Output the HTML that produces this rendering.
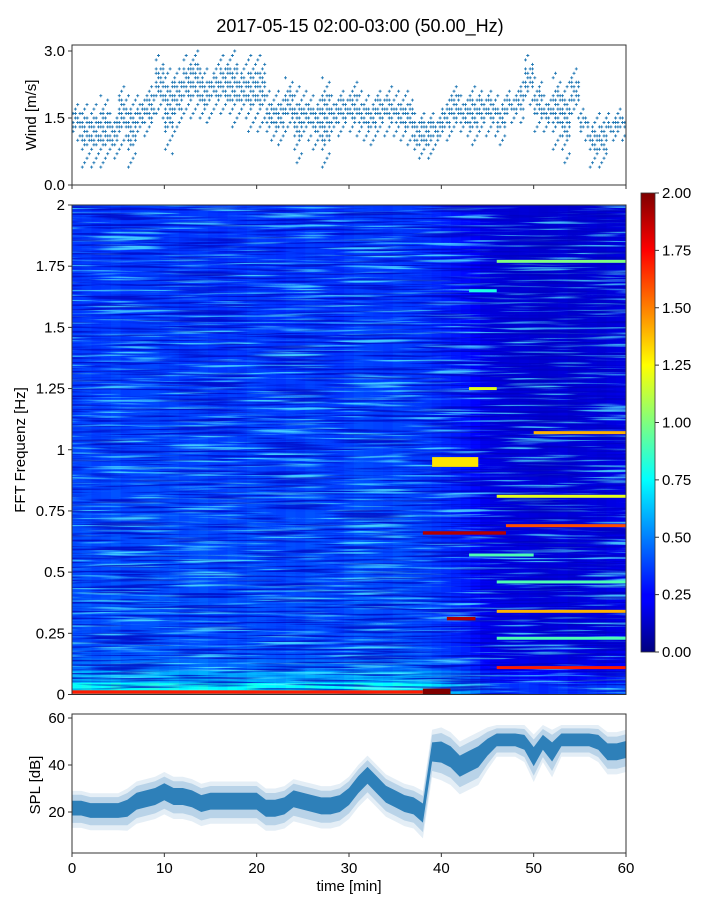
<!DOCTYPE html>
<html><head><meta charset="utf-8">
<style>
html,body{margin:0;padding:0;background:#fff;}
svg{display:block;font-family:"Liberation Sans","DejaVu Sans",sans-serif;}
</style></head>
<body>
<svg id="fig" width="720" height="900" viewBox="0 0 720 900" xmlns="http://www.w3.org/2000/svg">
<defs>
<filter id="streaks" x="0" y="0" width="100%" height="100%">
<feTurbulence type="fractalNoise" baseFrequency="0.012 0.4" numOctaves="2" seed="3"/>
<feColorMatrix values="0 0 0 0 0.1  0 0 0 0 0.95  0 0 0 0 1  5 0 0 0 -2.7"/>
</filter>
<filter id="streaks2" x="0" y="0" width="100%" height="100%">
<feTurbulence type="fractalNoise" baseFrequency="0.012 0.45" numOctaves="2" seed="11"/>
<feColorMatrix values="0 0 0 0 0  0 0 0 0 0  0 0 0 0 0.5  5 0 0 0 -2.4"/>
</filter>
<linearGradient id="jetgrad" x1="0" y1="1" x2="0" y2="0">
<stop offset="0" stop-color="#00007f"/><stop offset="0.11" stop-color="#0000ff"/>
<stop offset="0.125" stop-color="#0000ff"/><stop offset="0.375" stop-color="#00ffff"/>
<stop offset="0.5" stop-color="#7fff7f"/><stop offset="0.625" stop-color="#ffff00"/>
<stop offset="0.875" stop-color="#ff0000"/><stop offset="1" stop-color="#7f0000"/>
</linearGradient>
<clipPath id="specClip"><rect x="72" y="205" width="554" height="490"/></clipPath>
<clipPath id="splClip"><rect x="72" y="714" width="554" height="139"/></clipPath>
</defs>
<text x="360" y="32" font-size="18" text-anchor="middle" fill="#000">2017-05-15 02:00-03:00 (50.00_Hz)</text>
<g id="wind"></g>
<g id="spec"></g>
<g id="cbar"></g>
<g id="spl"></g>
</svg>
<script>
// ---------- data ----------
const minutes = [0,1,2,3,4,5,6,7,8,9,10,11,12,13,14,15,16,17,18,19,20,21,22,23,24,25,26,27,28,29,30,31,32,33,34,35,36,37,38,39,40,41,42,43,44,45,46,47,48,49,50,51,52,53,54,55,56,57,58,59];
const windLo = [1.0,0.4,0.4,0.4,0.6,0.8,0.4,1.1,1.2,1.5,0.7,1.2,1.5,1.5,1.4,1.6,1.6,1.3,1.5,1.2,1.2,1.0,0.9,1.2,0.5,1.0,0.8,0.4,1.1,1.2,1.1,1.0,0.9,1.1,1.1,1.0,0.9,0.6,0.6,0.8,1.0,1.2,1.1,0.9,1.1,1.1,0.9,1.4,1.4,1.8,1.2,1.2,0.8,0.5,1.5,1.0,0.4,0.4,1.0,1.0];
const windHi = [1.8,1.8,1.8,2.0,1.6,2.2,2.0,2.0,2.2,2.9,2.6,2.6,2.9,3.0,2.6,2.7,2.9,3.0,2.7,2.9,2.9,2.1,2.1,2.4,2.2,2.1,2.0,2.4,2.0,2.1,2.3,2.1,2.0,2.1,2.2,2.1,2.1,1.6,1.6,1.6,1.9,2.2,2.0,2.2,2.1,2.1,2.0,2.1,2.3,2.9,2.4,2.0,2.5,2.3,2.6,1.7,1.5,1.6,1.6,1.7];
const windTicks = [0.0,1.5,3.0];
const windTickLabels = ["0.0","1.5","3.0"];
const timeTicks = [0,10,20,30,40,50,60];

const splMid = [22,22,21,21,21,21,22,25,26,27,29,27,27,26,24,25,25,25,25,25,25,22,22,23,26,25,24,23,23,24,27,32,36,32,28,26,24,23,20,46,46,44,40,42,44,48,51,51,51,50,44,50,46,51,51,51,51,50,46,46,47];
const splRange = [7,7,7,7,7,7,8,8,8,8,8,8,8,8,8,8,8,8,8,8,8,8,8,8,8,8,8,8,8,8,8,8,8,8,8,8,8,8,9,9,10,10,10,10,10,8,6,6,6,7,9,7,9,6,6,6,6,7,8,8,8];
const splTicks = [20,40,60];

const specColLevel = [0.40,0.41,0.39,0.40,0.42,0.39,0.40,0.41,0.42,0.40,0.41,0.39,0.40,0.41,0.39,0.38,0.40,0.39,0.41,0.40,0.39,0.38,0.40,0.39,0.41,0.40,0.39,0.38,0.40,0.42,0.41,0.40,0.39,0.41,0.40,0.39,0.38,0.36,0.34,0.32,0.30,0.27,0.22,0.20,0.19,0.18,0.19,0.18,0.17,0.18,0.19,0.17,0.18,0.19,0.18,0.20,0.21];
const specRowLevel = [1.9,1.45,1.15,1.05,1.0,1.0,1.0,1.05,1.0,1.0,1.0,1.0,1.0,1.0,1.0,0.98,0.98,0.98,0.96,0.96,0.96,0.95,0.95,0.94,0.94,0.93,0.93,0.92,0.92,0.92,0.9,0.9,0.9,0.9,0.9,0.9,0.9,0.9,0.9,0.9];
const lineFreq = [0.66,0.69,0.31,0.34,0.11,0.95,1.07,0.81,0.46,0.23,0.57,1.77,1.25,1.65,0.01,0.012];
const lineT0   = [38,47,40.6,46,46,39,50,46,46,46,43,46,43,43,0,38];
const lineT1   = [47,60,43.7,60,60,44,60,60,60,60,50,60,46,46,38,41];
const lineVal  = [1.9,1.6,1.9,1.4,1.7,1.3,1.4,1.2,0.9,0.9,0.9,1.0,1.2,0.8,1.7,2.0];
const lineW    = [0.014,0.012,0.014,0.012,0.012,0.04,0.012,0.012,0.012,0.012,0.012,0.012,0.012,0.012,0.014,0.024];
const cbarTicks = [0,0.25,0.5,0.75,1.0,1.25,1.5,1.75,2.0];
const freqTicks = [0,0.25,0.5,0.75,1,1.25,1.5,1.75,2];
const freqTickLabels = ["0","0.25","0.5","0.75","1","1.25","1.5","1.75","2"];

// ---------- helpers ----------
const NS = "http://www.w3.org/2000/svg";
function mk(tag, attrs, parent){const e=document.createElementNS(NS,tag);for(const k in attrs)e.setAttribute(k,attrs[k]);parent.appendChild(e);return e;}
function jet(v){let t=Math.max(0,Math.min(1,v/2));const c=x=>Math.round(255*Math.max(0,Math.min(1,1.5-Math.abs(4*t-x))));return `rgb(${c(3)},${c(2)},${c(1)})`;}
const X0=72,X1=626;
const xT = t => X0 + (X1-X0)*t/60;

// ---------- wind panel ----------
const W = document.getElementById('wind');
const wy = v => 185 - v*44.67;
let wpath="";
minutes.forEach((m,i)=>{
  const lo=windLo[i], hi=windHi[i], span=hi-lo;
  const cLo=lo+0.3*span, cHi=hi-0.2*span;
  for(let s=0;s<4;s++){
    const x=xT(m+s*0.25+0.12);
    for(let v=Math.round(lo*10);v<=Math.round(hi*10);v++){
      const val=v/10;
      const core = val>=cLo && val<=cHi;
      if(core && (v+s)%3===0) continue;
      if(!core && s!==(v%4)) continue;
      const y=wy(val);
      wpath+=`M${(x-1.5).toFixed(1)} ${y.toFixed(1)}h3M${x.toFixed(1)} ${(y-1.5).toFixed(1)}v3`;
    }
  }
});
let wp=mk('path',{d:wpath,stroke:'#1f77b4','stroke-width':0.9,fill:'none'},W);


let wf=mk('rect',{x:X0,y:45,width:X1-X0,height:140,fill:'none',stroke:'#333','stroke-width':1},W);


windTicks.forEach((v,i)=>{
  mk('line',{x1:X0-4,x2:X0,y1:wy(v),y2:wy(v),stroke:'#333'},W);
  const t=mk('text',{x:X0-7,y:wy(v)+5,'font-size':15,'text-anchor':'end'},W);t.textContent=windTickLabels[i];
  
  
});
timeTicks.forEach(m=>mk('line',{x1:xT(m),x2:xT(m),y1:185,y2:189,stroke:'#333'},W));
let wl=mk('text',{x:0,y:0,'font-size':15,'text-anchor':'middle',transform:'translate(36,115) rotate(-90)'},W);wl.textContent='Wind [m/s]';



// ---------- spectrogram ----------
const S = document.getElementById('spec');
const SY0=694.5, SY1=205;
const fy = f => SY0 - (SY0-SY1)*f/2;
const G = mk('g',{'clip-path':'url(#specClip)'},S);
const nC=specColLevel.length, nR=specRowLevel.length, cw=(X1-X0)/nC, rh=(SY0-SY1)/nR;
for(let c=0;c<nC;c++){
  for(let r=0;r<nR;r++){
    const v=specColLevel[c]*specRowLevel[r];
    mk('rect',{x:(X0+c*cw).toFixed(2),y:(SY0-(r+1)*rh).toFixed(2),width:(cw+0.6).toFixed(2),height:(rh+0.6).toFixed(2),fill:jet(v)},G);
  }
}
let t1=mk('rect',{x:X0,y:SY1,width:X1-X0,height:SY0-SY1,filter:'url(#streaks)',opacity:0.75},G);


let t2=mk('rect',{x:X0,y:SY1,width:X1-X0,height:SY0-SY1,filter:'url(#streaks2)',opacity:0.7},G);


lineFreq.forEach((f,i)=>{
  const r=mk('rect',{x:xT(lineT0[i]),y:fy(f+lineW[i]/2),width:xT(lineT1[i])-xT(lineT0[i]),height:Math.max(3,fy(f-lineW[i]/2)-fy(f+lineW[i]/2)),fill:jet(lineVal[i])},G);
  
  
});
let sf=mk('rect',{x:X0,y:SY1,width:X1-X0,height:SY0-SY1,fill:'none',stroke:'#333'},S);


freqTicks.forEach((f,i)=>{
  mk('line',{x1:X0-4,x2:X0,y1:fy(f),y2:fy(f),stroke:'#333'},S);
  const t=mk('text',{x:X0-7,y:fy(f)+5,'font-size':15,'text-anchor':'end'},S);t.textContent=freqTickLabels[i];
  
  
});
let sl=mk('text',{x:0,y:0,'font-size':15,'text-anchor':'middle',transform:'translate(25,450) rotate(-90)'},S);sl.textContent='FFT Frequenz [Hz]';



// ---------- colorbar ----------
const C=document.getElementById('cbar');
const cy = v => 652 - 459*v/2;
let cb=mk('rect',{x:641,y:193,width:14,height:459,fill:'url(#jetgrad)',stroke:'#333','stroke-width':0.8},C);


cbarTicks.forEach(v=>{
  mk('line',{x1:655,x2:659,y1:cy(v),y2:cy(v),stroke:'#333'},C);
  const t=mk('text',{x:662,y:cy(v)+5,'font-size':15},C);t.textContent=v.toFixed(2);
  
  
});

// ---------- SPL panel ----------
const P=document.getElementById('spl');
const sy = v => 812 - (v-20)*2.35;
const PG=mk('g',{'clip-path':'url(#splClip)'},P);
function band(frac,fill,op,name){
  let up=[],dn=[];
  splMid.forEach((m,i)=>{const x=xT(i);up.push(`${x.toFixed(1)},${sy(m+splRange[i]*frac*0.8).toFixed(1)}`);dn.push(`${x.toFixed(1)},${sy(m-splRange[i]*frac).toFixed(1)}`);});
  const p=mk('polygon',{points:up.concat(dn.reverse()).join(' '),fill:fill,opacity:op},PG);
  
  
}
band(1.25,'#1f77b4',0.12,'spl-outer-band');
band(0.95,'#1f77b4',0.22,'spl-light-band');
band(0.5,'#1f77b4',0.9,'spl-core-band');
let pf=mk('rect',{x:X0,y:714,width:X1-X0,height:139,fill:'none',stroke:'#333'},P);


splTicks.forEach(v=>{
  mk('line',{x1:X0-4,x2:X0,y1:sy(v),y2:sy(v),stroke:'#333'},P);
  const t=mk('text',{x:X0-7,y:sy(v)+5,'font-size':15,'text-anchor':'end'},P);t.textContent=v;
  
  
});
timeTicks.forEach(m=>{
  mk('line',{x1:xT(m),x2:xT(m),y1:853,y2:857,stroke:'#333'},P);
  const t=mk('text',{x:xT(m),y:873,'font-size':15,'text-anchor':'middle'},P);t.textContent=m;
  
  
});
let pl=mk('text',{x:0,y:0,'font-size':15,'text-anchor':'middle',transform:'translate(40,785) rotate(-90)'},P);pl.textContent='SPL [dB]';


let xl=mk('text',{x:349,y:891,'font-size':15,'text-anchor':'middle'},P);xl.textContent='time [min]';


</script>
</body></html>
